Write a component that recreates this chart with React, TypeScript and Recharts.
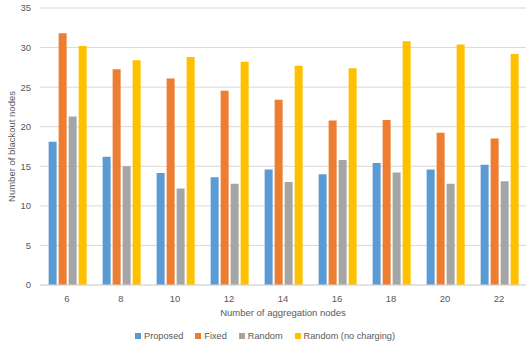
import React from "react";
import { BarChart, Bar, XAxis, YAxis, CartesianGrid, Legend } from "recharts";

const categories = ["6", "8", "10", "12", "14", "16", "18", "20", "22"];
const proposed = [18.1, 16.2, 14.15, 13.6, 14.6, 14.0, 15.4, 14.6, 15.2];
const fixed = [31.8, 27.25, 26.1, 24.55, 23.4, 20.8, 20.85, 19.25, 18.5];
const random = [21.3, 15.0, 12.2, 12.8, 13.0, 15.8, 14.2, 12.8, 13.1];
const randomNoCharging = [30.2, 28.4, 28.8, 28.2, 27.7, 27.4, 30.8, 30.4, 29.2];
const yTicks = [0, 5, 10, 15, 20, 25, 30, 35];
const seriesNames = ["Proposed", "Fixed", "Random", "Random (no charging)"];
const seriesColors = ["#5B9BD5", "#ED7D31", "#A5A5A5", "#FFC000"];

const data = categories.map((c, i) => ({
  name: c,
  proposed: proposed[i],
  fixed: fixed[i],
  random: random[i],
  randomNoCharging: randomNoCharging[i],
}));

const FONT = "'Liberation Sans', Arial, sans-serif";
const TEXT = "#595959";

const renderLegend = () => (
  <div style={{ display: "flex", justifyContent: "center", fontFamily: FONT, fontSize: 9.2, color: TEXT, lineHeight: "14px", paddingLeft: 4 }}>
    {seriesNames.map((n, i) => (
      <span key={i} style={{ display: "inline-flex", alignItems: "center", marginLeft: i === 0 ? 0 : 12 }}>
        <span style={{ display: "inline-block", width: 6, height: 6, background: seriesColors[i], marginRight: 3 }} />
        {n}
      </span>
    ))}
  </div>
);

export default function App() {
  return (
    <div style={{ position: "absolute", left: 0, top: 0, width: 526, height: 348, background: "#fff" }}>
      <BarChart
        width={526}
        height={348}
        data={data}
        margin={{ top: 8, right: 0, left: 0, bottom: 5 }}
        barCategoryGap="16%"
        barGap={2}
      >
        <CartesianGrid vertical={false} stroke="#D9D9D9" />
        <XAxis
          dataKey="name"
          height={44}
          tickLine={false}
          axisLine={{ stroke: "#D9D9D9" }}
          tick={{ fill: TEXT, fontSize: 9.5, fontFamily: FONT }}
          tickMargin={4}
          label={{ value: "Number of aggregation nodes", position: "insideBottom", offset: 13, fill: TEXT, fontSize: 9.5, fontFamily: FONT }}
        />
        <YAxis
          width={40}
          domain={[0, 35]}
          ticks={yTicks}
          interval={0}
          tickLine={false}
          axisLine={false}
          tickSize={0}
          tickMargin={9}
          tick={{ fill: TEXT, fontSize: 9.5, fontFamily: FONT }}
          label={{ value: "Number of blackout nodes", angle: -90, position: "insideLeft", offset: 12, fill: TEXT, fontSize: 9.5, fontFamily: FONT, style: { textAnchor: "middle" } }}
        />
        <Legend verticalAlign="bottom" content={renderLegend} />
        <Bar dataKey="proposed" name="Proposed" fill={seriesColors[0]} isAnimationActive={false} />
        <Bar dataKey="fixed" name="Fixed" fill={seriesColors[1]} isAnimationActive={false} />
        <Bar dataKey="random" name="Random" fill={seriesColors[2]} isAnimationActive={false} />
        <Bar dataKey="randomNoCharging" name="Random (no charging)" fill={seriesColors[3]} isAnimationActive={false} />
      </BarChart>
    </div>
  );
}
